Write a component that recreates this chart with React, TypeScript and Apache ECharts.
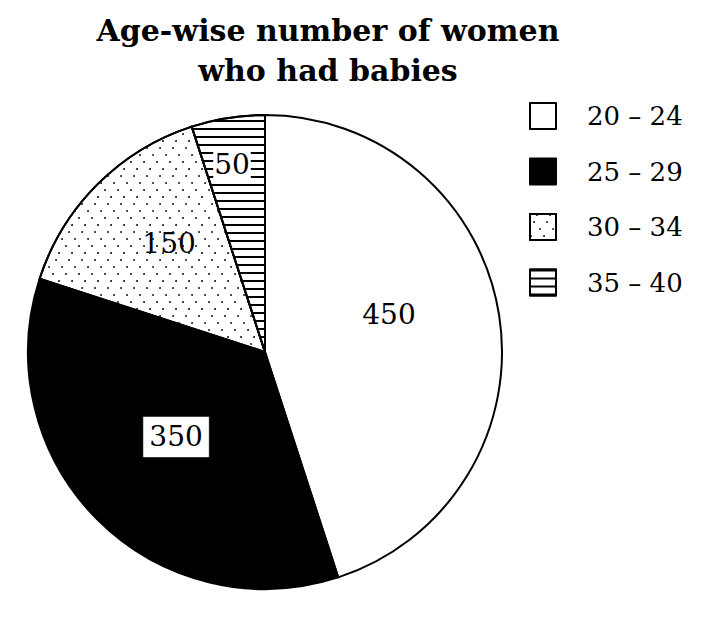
import React, { useEffect, useRef } from "react";
import * as echarts from "echarts";

const ageGroups = ["20 – 24", "25 – 29", "30 – 34", "35 – 40"];
const womenCounts = [450, 350, 150, 50];

const FONT = "'DejaVu Serif', 'Liberation Serif', serif";

// fill style for each age group: plain white, solid black, dotted, horizontal stripes
const sliceStyles: any[] = [
  { color: "#ffffff" },
  { color: "#000000" },
  {
    color: "#ffffff",
    decal: {
      symbol: "circle",
      symbolSize: 0.9,
      color: "#000000",
      backgroundColor: "#ffffff",
      dashArrayX: [[2, 11], [0, 6, 2, 5], [0, 3, 2, 8], [0, 9, 2, 2]],
      dashArrayY: [2, 5],
      rotation: 0,
    },
  },
  {
    color: "#ffffff",
    decal: {
      symbol: "rect",
      symbolSize: 1,
      color: "#000000",
      backgroundColor: "#ffffff",
      dashArrayX: [1, 0],
      dashArrayY: [2, 6],
      rotation: 0,
    },
  },
];

// nudges for the inside value labels
const labelShift = [
  { dx: 4, dy: -18 },
  { dx: -3, dy: -1 },
  { dx: -10, dy: -23 },
  { dx: -14, dy: -67 },
];

export default function App() {
  const ref = useRef<HTMLDivElement>(null);

  useEffect(() => {
    if (!ref.current) return;
    const chart = echarts.init(ref.current, undefined, { renderer: "svg" });
    chart.setOption({
      animation: false,
      backgroundColor: "#ffffff",
      aria: { enabled: false, decal: { show: false } },
      title: {
        text: "Age-wise number of women\nwho had babies",
        left: 328,
        top: 10,
        textAlign: "center",
        padding: 0,
        textStyle: {
          fontFamily: FONT,
          fontWeight: "bold",
          fontSize: 30,
          lineHeight: 40,
          color: "#000",
        },
      },
      legend: {
        orient: "vertical",
        left: 529,
        top: 102,
        padding: 0,
        icon: "rect",
        itemWidth: 26,
        itemHeight: 26,
        itemGap: 27.5,
        selectedMode: false,
        itemStyle: { borderColor: "#000", borderWidth: 2 },
        textStyle: {
          fontFamily: FONT,
          fontSize: 26,
          lineHeight: 26,
          color: "#000",
          padding: [0, 0, 0, 26],
        },
        data: ageGroups,
      },
      series: [
        {
          type: "pie",
          center: [265, 352],
          radius: 237,
          startAngle: 90,
          clockwise: true,
          silent: true,
          avoidLabelOverlap: false,
          itemStyle: { borderColor: "#000", borderWidth: 2 },
          label: {
            show: true,
            position: "inside",
            formatter: "{c}",
            fontFamily: FONT,
            fontSize: 28,
            color: "#000",
          },
          labelLine: { show: false },
          labelLayout: (p: any) => labelShift[p.dataIndex],
          data: ageGroups.map((name, i) => ({
            name,
            value: womenCounts[i],
            itemStyle: sliceStyles[i],
            label:
              i === 1
                ? { backgroundColor: "#fff", padding: [7, 6, 5, 6], borderColor: "#777", borderWidth: 0.5 }
                : i === 3
                ? { backgroundColor: "#fff", padding: [0, 1] }
                : {},
          })),
        },
      ],
    });
    return () => chart.dispose();
  }, []);

  return (
    <div
      ref={ref}
      style={{ position: "fixed", left: 0, top: 0, width: 707, height: 622 }}
    />
  );
}
